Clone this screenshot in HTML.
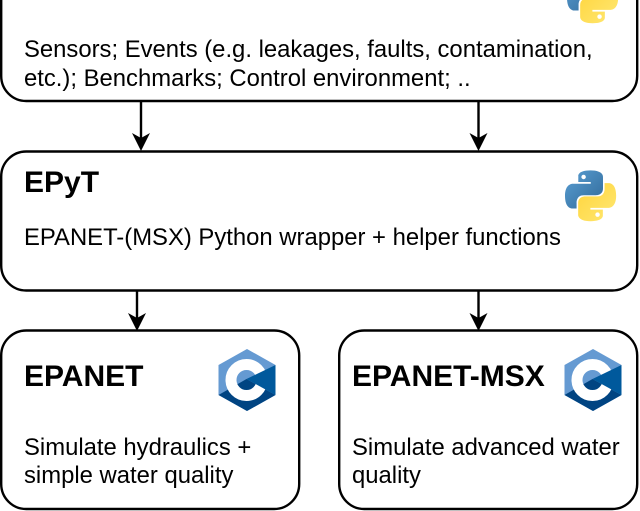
<!DOCTYPE html>
<html>
<head>
<meta charset="utf-8">
<style>
html,body{margin:0;padding:0;background:#fff;width:640px;height:511px;overflow:hidden}
svg{display:block}
text{font-family:"Liberation Sans",sans-serif;fill:#000}
.t{font-size:23.85px}
.b{font-size:30px;font-weight:bold}
.box{fill:#fff;stroke:#000;stroke-width:2.4}
.ln{stroke:#000;stroke-width:2.4;fill:none}
</style>
</head>
<body>
<svg width="640" height="511" viewBox="0 0 640 511" xmlns="http://www.w3.org/2000/svg">
<defs>
<linearGradient id="pb" x1="0" y1="0" x2="1" y2="1"><stop offset="0" stop-color="#5a9fd4"/><stop offset="1" stop-color="#306998"/></linearGradient>
<linearGradient id="py" x1="0" y1="0" x2="1" y2="1"><stop offset="0" stop-color="#ffe873"/><stop offset="1" stop-color="#ffd43b"/></linearGradient>
<g id="python">
<path fill="url(#pb)" d="M54.9.9c-28 0-26.3 12.2-26.3 12.2v12.6h26.8v3.8H17.9C17.9 29.5 0 27.5 0 55.7s15.6 27.2 15.6 27.2h9.3V69.8s-.5-15.6 15.4-15.6h26.5s14.9.2 14.9-14.4V15.6S84 .9 54.9.9z"/>
<circle cx="40" cy="15" r="4.8" fill="#fff"/>
<g transform="rotate(180 55 55.5)">
<path fill="url(#py)" d="M54.9.9c-28 0-26.3 12.2-26.3 12.2v12.6h26.8v3.8H17.9C17.9 29.5 0 27.5 0 55.7s15.6 27.2 15.6 27.2h9.3V69.8s-.5-15.6 15.4-15.6h26.5s14.9.2 14.9-14.4V15.6S84 .9 54.9.9z"/>
<circle cx="40" cy="15" r="4.8" fill="#fff"/>
</g>
</g>
<g id="clogo">
<polygon points="28.5,0 57,16 57,46 28.5,62 0,46 0,16" fill="#659ad2"/>
<polygon points="0,46 28,30 57,46 28.5,62" fill="#004482"/>
<circle cx="28" cy="31" r="15.500" fill="none" stroke="#fff" stroke-width="11"/>
<polygon points="57,16 57,46 28,30" fill="#00599c"/>
</g>
</defs>

<rect class="box" x="1.2" y="-60" width="636" height="161" rx="25"/>
<rect class="box" x="1.2" y="151.5" width="636" height="139" rx="25"/>
<rect class="box" x="1.2" y="330.5" width="298" height="178.500" rx="25"/>
<rect class="box" x="339.200" y="330.500" width="298" height="178.500" rx="25"/>

<line class="ln" x1="141" y1="101" x2="141" y2="140"/>
<polygon points="132,133 141,138 150,133 141,151"/>
<line class="ln" x1="478.500" y1="101" x2="478.500" y2="140"/>
<polygon points="469.500,133 478.500,138 487.500,133 478.500,151"/>
<line class="ln" x1="137" y1="290" x2="137" y2="320"/>
<polygon points="128,313 137,318 146,313 137,331"/>
<line class="ln" x1="478.500" y1="290" x2="478.500" y2="320"/>
<polygon points="469.500,313 478.500,318 487.500,313 478.500,331"/>

<text class="t" x="24" y="57">Sensors; Events (e.g. leakages, faults, contamination,</text>
<text class="t" x="24" y="86">etc.); Benchmarks; Control environment; ..</text>

<text class="b" x="24" y="192">EPyT</text>
<text class="t" x="24" y="245">EPANET-(MSX) Python wrapper + helper functions</text>

<text class="b" x="24" y="386">EPANET</text>
<text class="t" x="24" y="455">Simulate hydraulics +</text>
<text class="t" x="24" y="483">simple water quality</text>

<text class="b" x="352" y="386">EPANET-MSX</text>
<text class="t" x="352" y="455">Simulate advanced water</text>
<text class="t" x="352" y="483">quality</text>

<use href="#python" transform="translate(565 170) scale(.465)"/>
<use href="#python" transform="translate(567 -28) scale(.465)"/>
<use href="#clogo" x="218.500" y="349"/>
<use href="#clogo" x="564.500" y="349"/>
</svg>
</body>
</html>
